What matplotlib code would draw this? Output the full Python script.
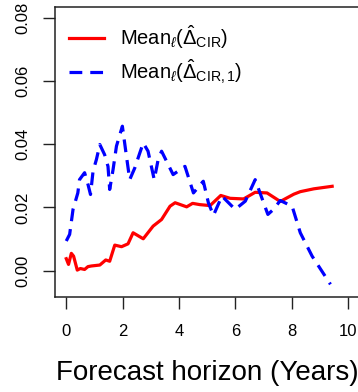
import matplotlib
matplotlib.use('Agg')
import matplotlib.pyplot as plt

plt.rcParams['font.family'] = ['Liberation Sans', 'DejaVu Sans']
plt.rcParams['mathtext.fontset'] = 'custom'
plt.rcParams['mathtext.rm'] = 'Liberation Sans'
plt.rcParams['mathtext.it'] = 'Liberation Sans:italic'

# red: Mean_l(Delta_CIR)
x_red = [0, 0.08, 0.18, 0.26, 0.39, 0.5, 0.65, 0.77, 0.89, 1.19, 1.4, 1.54, 1.72, 1.96,
         2.19, 2.37, 2.73, 3.08, 3.38, 3.68, 3.86, 4.27, 4.48, 4.74, 5.1, 5.48, 5.81,
         6.29, 6.7, 7.12, 7.59, 8.07, 8.3, 8.78, 9.43]
y_red = [0.0038, 0.002, 0.0055, 0.0046, 0.0002, 0.0007, 0.0004, 0.0013, 0.0015, 0.0018,
         0.0034, 0.003, 0.0081, 0.0076, 0.0085, 0.012, 0.0101, 0.0141, 0.0162, 0.0204,
         0.0215, 0.0202, 0.0213, 0.0209, 0.0206, 0.0238, 0.0229, 0.0227, 0.0248, 0.0246,
         0.0219, 0.0242, 0.025, 0.0259, 0.0267]

# blue dashed: Mean_l(Delta_CIR,1)
x_blue = [0, 0.12, 0.24, 0.41, 0.47, 0.65, 0.77, 0.86, 0.95, 1.07, 1.19, 1.36, 1.48, 1.54,
          1.66, 1.78, 1.99, 2.11, 2.25, 2.43, 2.61, 2.73, 2.9, 3.12, 3.26, 3.38, 3.79,
          4.21, 4.51, 4.86, 5.04, 5.22, 5.52, 5.99, 6.35, 6.7, 7.15, 7.35, 7.59, 8.01,
          8.3, 8.72, 9.37]
y_blue = [0.0094, 0.0115, 0.0194, 0.0246, 0.0288, 0.031, 0.0273, 0.0241, 0.0315, 0.0352,
          0.0399, 0.0367, 0.033, 0.0257, 0.032, 0.0394, 0.0457, 0.0378, 0.0288, 0.0325,
          0.0373, 0.0404, 0.0378, 0.0288, 0.0352, 0.0378, 0.0304, 0.033, 0.0246, 0.0283,
          0.0215, 0.0175, 0.0236, 0.0194, 0.022, 0.0288, 0.0178, 0.0194, 0.0222, 0.0204,
          0.012, 0.0046, -0.0043]

xticks = [0, 2, 4, 6, 8, 10]
yticks = [0.00, 0.02, 0.04, 0.06, 0.08]
ytick_labels = ['0.00', '0.02', '0.04', '0.06', '0.08']

fig = plt.figure(figsize=(3.58, 3.92), dpi=100)
ax = fig.add_axes([0.1536, 0.2416, 0.8506, 0.7406])

ax.plot(x_red, y_red, color='red', lw=2.3, solid_joinstyle='round',
        label=r'Mean$_\ell$($\hat{\Delta}_{\mathrm{CIR}}$)')
ax.plot(x_blue, y_blue, color='blue', lw=2.3, dashes=(4, 2.5),
        label=r'Mean$_\ell$($\hat{\Delta}_{\mathrm{CIR,1}}$)')

ax.set_xlim(-0.4, 10.4)
ax.set_ylim(-0.0084, 0.0834)
ax.set_xticks(xticks)
ax.set_yticks(yticks)
ax.set_yticklabels(ytick_labels, rotation=90, va='center')
ax.tick_params(direction='out', length=8.5, width=1, labelsize=12, color='#222222')
ax.tick_params(axis='x', pad=11)
ax.tick_params(axis='y', pad=9)
for s in ax.spines.values():
    s.set_linewidth(1.1)
    s.set_color('#222222')

ax.set_xlabel('Forecast horizon (Years)', fontsize=20, labelpad=15)

ax.legend(loc='upper left', bbox_to_anchor=(0.0, 0.99), frameon=False, fontsize=14.5,
          handlelength=1.75, handletextpad=0.8, labelspacing=0.3, borderaxespad=0.3)

fig.savefig('out.png', dpi=100)
